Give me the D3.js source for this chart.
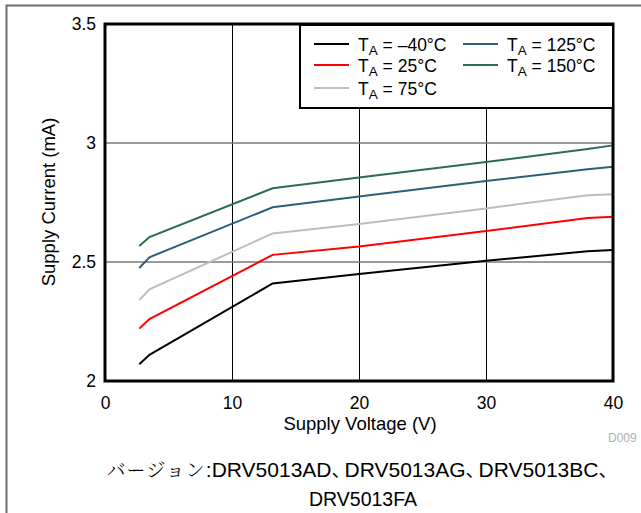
<!DOCTYPE html>
<html><head><meta charset="utf-8">
<script src="https://cdn.jsdelivr.net/npm/d3@7"></script>
<style>body{margin:0;background:#fff}svg{display:block}</style>
</head><body>
<script>
const voltages = [2.7, 3.5, 13.2, 20, 30, 38, 40];
const seriesNames = ["\u201340\u00B0C", "25\u00B0C", "75\u00B0C", "125\u00B0C", "150\u00B0C"];
const seriesColors = ["#000000", "#ff0000", "#bdbdbd", "#2e5f7a", "#2a6e4c"];
const currM40 = [2.07, 2.11, 2.41, 2.45, 2.505, 2.545, 2.55];
const curr25  = [2.22, 2.26, 2.53, 2.565, 2.63, 2.685, 2.69];
const curr75  = [2.34, 2.385, 2.62, 2.66, 2.725, 2.78, 2.785];
const curr125 = [2.475, 2.52, 2.73, 2.775, 2.84, 2.89, 2.90];
const curr150 = [2.567, 2.605, 2.81, 2.855, 2.92, 2.975, 2.99];
const xTicks = [0, 10, 20, 30, 40];
const yTicks = [2, 2.5, 3, 3.5];
const allSeries = [currM40, curr25, curr75, curr125, curr150];
const captionJa = "バージョン";
const captionParts = ["DRV5013AD", "DRV5013AG", "DRV5013BC"];
const captionLine2 = "DRV5013FA";

const W = 641, H = 513;
const FONT = "'Liberation Sans', Arial, sans-serif";
const svg = d3.select("body").append("svg").attr("width", W).attr("height", H)
  .style("font-family", FONT);

// outer frame
svg.append("path").attr("d", `M6.5,${H} L6.5,5.5 L${W},5.5`).attr("fill","none").attr("stroke","#6e6e6e").attr("stroke-width",2);

const L = 105, R = 613, T = 24, B = 381;
const x = d3.scaleLinear().domain([0, 40]).range([L, R]);
const y = d3.scaleLinear().domain([2, 3.5]).range([B, T]);

// grid
const g = svg.append("g");
g.selectAll(".vg").data([10,20,30]).join("line")
  .attr("x1", d=>Math.round(x(d))+0.5).attr("x2", d=>Math.round(x(d))+0.5).attr("y1", T).attr("y2", B)
  .attr("stroke","#000").attr("stroke-width",1);
g.selectAll(".hg").data([2.5,3]).join("line")
  .attr("x1", L).attr("x2", R).attr("y1", d=>y(d)).attr("y2", d=>y(d))
  .attr("stroke","#7a7a7a").attr("stroke-width",1.5);

// lines
const line = d3.line().x((d,i)=>x(voltages[i])).y(d=>y(d));
allSeries.forEach((s, k) => {
  svg.append("path").datum(s).attr("d", line).attr("fill","none")
    .attr("stroke", seriesColors[k]).attr("stroke-width", 2);
});

// axes
const xAxis = d3.axisBottom(x).tickValues(xTicks).tickSize(0).tickPadding(16).tickFormat(d3.format("d"));
const yAxis = d3.axisLeft(y).tickValues(yTicks).tickSize(0).tickPadding(9).tickFormat(d => d === 2 || d === 3 ? String(d) : d3.format(".1f")(d));
const xa = svg.append("g").attr("transform", `translate(0,${B})`).call(xAxis);
const ya = svg.append("g").attr("transform", `translate(${L},0)`).call(yAxis);
[xa, ya].forEach(a => {
  a.select(".domain").remove();
  a.selectAll("text").attr("font-size", 17.5).attr("fill", "#000").style("font-family", FONT);
});
ya.selectAll("text").attr("dy", "0.3em");

// plot frame
svg.append("rect").attr("x", L).attr("y", T).attr("width", R-L).attr("height", B-T)
  .attr("fill","none").attr("stroke","#000").attr("stroke-width",3);

// axis titles
svg.append("text").attr("x", 360).attr("y", 430).attr("text-anchor","middle").attr("font-size",18.5).text("Supply Voltage (V)");
svg.append("text").attr("transform", "translate(55,202) rotate(-90)").attr("text-anchor","middle").attr("font-size",18.5).text("Supply Current (mA)");
svg.append("text").attr("x", 608).attr("y", 442).attr("font-size",12).attr("fill","#b0b0b0").text("D009");

// legend
svg.append("rect").attr("x", 300).attr("y", 25).attr("width", 313).attr("height", 83)
  .attr("fill","#fff").attr("stroke","#000").attr("stroke-width",2);
const legPos = [[314,44],[314,65],[314,88],[463,44],[463,65]];
seriesNames.forEach((n, k) => {
  const [lx, ly] = legPos[k];
  svg.append("line").attr("x1", lx).attr("x2", lx+35).attr("y1", ly).attr("y2", ly)
    .attr("stroke", seriesColors[k]).attr("stroke-width", 2);
  const t = svg.append("text").attr("x", lx+44).attr("y", ly+7).attr("font-size",17.5);
  t.append("tspan").text("T");
  t.append("tspan").attr("font-size",13.5).attr("dy",4).text("A");
  t.append("tspan").attr("dy",-4).attr("xml:space","preserve").text(" = " + n);
});

// caption
const c1 = svg.append("text").attr("x", 359).attr("y", 477).attr("text-anchor","middle").attr("font-size",21);
c1.append("tspan").style("font-family","'Noto Serif CJK JP','Noto Sans CJK JP',sans-serif").attr("font-weight",300).attr("font-size",19).attr("letter-spacing",1).text(captionJa);
c1.append("tspan").text(":");
captionParts.forEach(p => {
  c1.append("tspan").text(p);
  c1.append("tspan").style("font-family","'Noto Sans CJK JP',sans-serif").attr("font-size",19).attr("letter-spacing",-6).text("、");
});
svg.append("text").attr("x", 363).attr("y", 506).attr("text-anchor","middle").attr("font-size",19.5).text(captionLine2);
</script>
</body></html>
